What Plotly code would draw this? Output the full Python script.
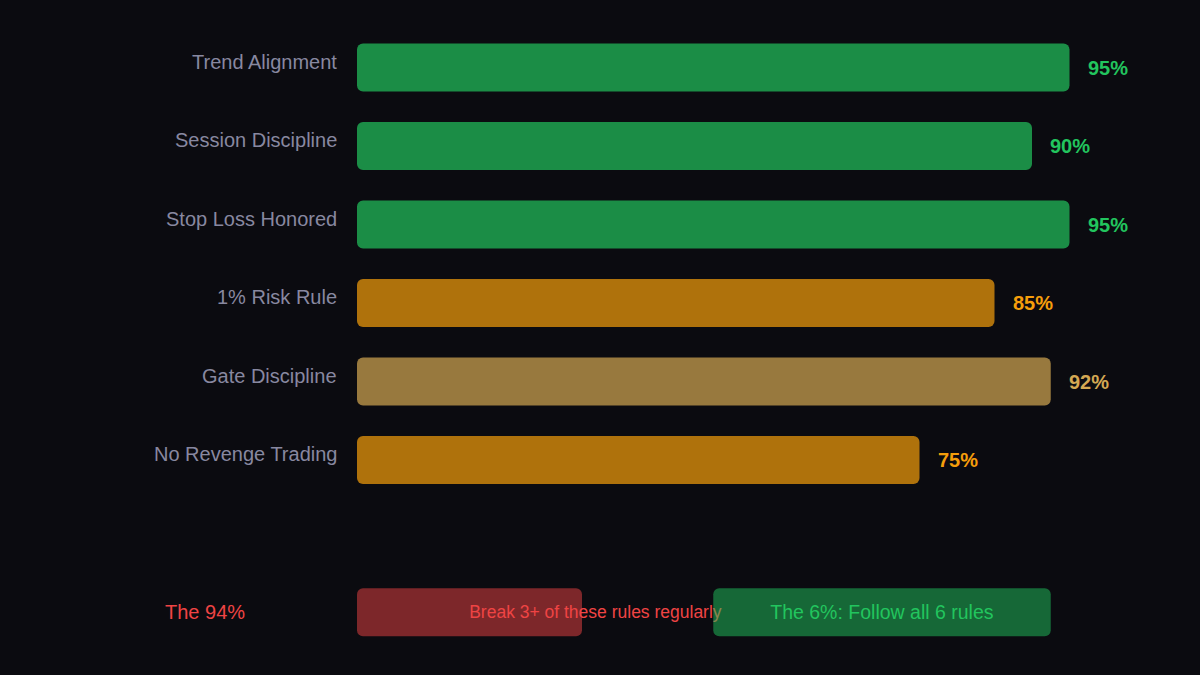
import plotly.graph_objects as go

# ---- data ----
categories = ["Trend Alignment", "Session Discipline", "Stop Loss Honored",
              "1% Risk Rule", "Gate Discipline", "No Revenge Trading"]
values = [95, 90, 95, 85, 92.5, 75]
value_labels = ["95%", "90%", "95%", "85%", "92%", "75%"]
groups = ["good", "good", "good", "warn", "mid", "warn"]

summary_label = "The 94%"
summary_break_text = "Break 3+ of these rules regularly"
summary_follow_text = "The 6%: Follow all 6 rules"
break_value = 30
follow_start = 47.5
follow_value = 45

# ---- styles ----
BG = "#0b0b10"
FONT = "Liberation Sans, Arial, sans-serif"
bar_colors = {"good": "rgba(34,197,94,0.7)", "warn": "rgba(245,158,11,0.7)",
              "mid": "rgba(212,168,83,0.7)"}
text_colors = {"good": "#22c55e", "warn": "#f59e0b", "mid": "#d4a853"}
LABEL_GRAY = "#8888a0"
RED = "#ef4444"
GREEN = "#22c55e"

rows = list(range(len(categories)))
bottom_y = len(categories) + 0.94
BW = 0.61

fig = go.Figure()

fig.add_trace(go.Bar(
    y=rows, x=values, base=[0] * len(values), orientation="h", width=BW,
    marker=dict(color=[bar_colors[g] for g in groups], cornerradius=6, line=dict(width=0)),
    hoverinfo="skip", showlegend=False,
))

# red "break" bar
fig.add_trace(go.Bar(
    y=[bottom_y], x=[break_value], base=[0], orientation="h", width=BW,
    marker=dict(color="rgba(239,68,68,0.5)", cornerradius=6, line=dict(width=0)),
    hoverinfo="skip", showlegend=False,
))
# helper transparent bar carrying the "break" text (drawn below the green bar)
fig.add_trace(go.Bar(
    y=[bottom_y], x=[33.6], base=[15.0], orientation="h", width=BW,
    marker=dict(color="rgba(0,0,0,0)", line=dict(width=0)),
    text=[summary_break_text], textposition="inside", insidetextanchor="middle",
    constraintext="none",
    insidetextfont=dict(family=FONT, size=17.5, color=RED),
    hoverinfo="skip", showlegend=False,
))
# green "follow" bar
fig.add_trace(go.Bar(
    y=[bottom_y], x=[follow_value], base=[follow_start], orientation="h", width=BW,
    marker=dict(color="rgba(34,197,94,0.5)", cornerradius=6, line=dict(width=0)),
    text=[summary_follow_text], textposition="inside", insidetextanchor="middle",
    constraintext="none",
    insidetextfont=dict(family=FONT, size=19.5, color=GREEN),
    hoverinfo="skip", showlegend=False,
))

annotations = []
for r, c, v, lab, g in zip(rows, categories, values, value_labels, groups):
    annotations.append(dict(
        x=0, y=r, xref="x", yref="y", text=c, showarrow=False,
        xanchor="right", xshift=-18, yshift=6,
        font=dict(family=FONT, size=20, color=LABEL_GRAY)))
    annotations.append(dict(
        x=v, y=r, xref="x", yref="y", text=f"<b>{lab}</b>", showarrow=False,
        xanchor="left", xshift=16,
        font=dict(family=FONT, size=20, color=text_colors[g])))
annotations.append(dict(
    x=0, y=bottom_y, xref="x", yref="y", text=summary_label, showarrow=False,
    xanchor="center", xshift=-152.5,
    font=dict(family=FONT, size=20, color=RED)))

fig.update_layout(
    width=1200, height=675,
    paper_bgcolor=BG, plot_bgcolor=BG,
    margin=dict(l=357, r=43, t=0, b=0),
    barmode="overlay",
    xaxis=dict(range=[0, 800 / 7.5], visible=False, fixedrange=True),
    yaxis=dict(range=[7.739, -0.86], visible=False, fixedrange=True),
    annotations=annotations,
    font=dict(family=FONT),
)

fig.write_html(
    "out.html",
    config={"displayModeBar": False},
    post_script="document.body.style.margin='0';document.body.style.background='#0b0b10';",
)
